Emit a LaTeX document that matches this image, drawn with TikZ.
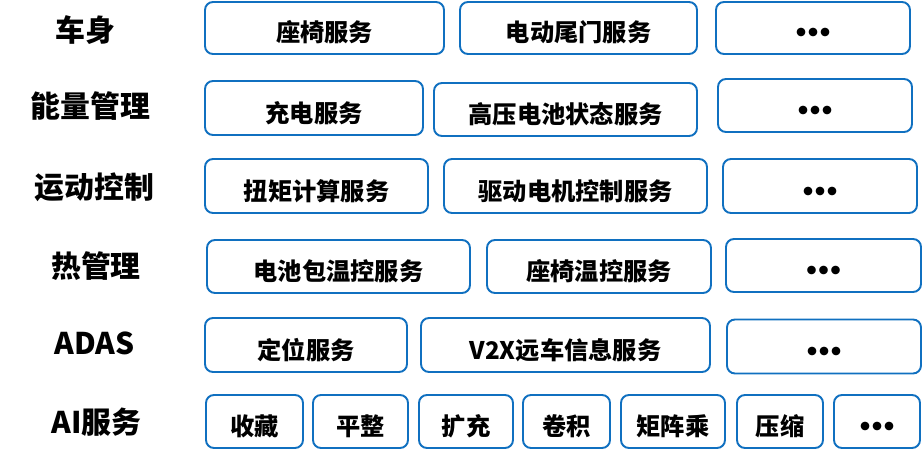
\documentclass[tikz,border=0pt]{standalone}
\usepackage{fontspec}
\setmainfont{Noto Sans CJK SC}
\newfontfamily\dotfont{DejaVu Sans}
\usepackage{tikz}

\definecolor{boxblue}{RGB}{16,112,192}
\newcommand{\moredots}{{\dotfont\bfseries •\kern-2pt•\kern-2pt•}}
\tikzset{
  svc/.style={draw=boxblue, line width=1.1pt, rounded corners=0.16cm, fill=white,
    inner sep=0pt, minimum height=1.06cm, text height=0.62cm, text depth=0.06cm,
    font=\fontsize{13.8}{15}\selectfont\bfseries},
  domtext/.style={inner sep=0pt, font=\fontsize{17}{19}\selectfont\bfseries}
}

\begin{document}
\begin{tikzpicture}
\useasboundingbox (0,0) rectangle (18.44,9.2);

\node (body) at (1.70, 8.60) [domtext] {车身};
\node (energy) at (1.81, 7.07) [domtext] {能量管理};
\node (motion) at (1.89, 5.46) [domtext] {运动控制};
\node (thermal) at (1.92, 3.88) [domtext] {热管理};
\node (adas) at (1.89, 2.33) [domtext] {ADAS};
\node (ai) at (1.93, 0.75) [domtext] {AI服务};

\node (seat) at (6.49, 8.64) [svc, minimum width=4.78cm, minimum height=1.04cm] {座椅服务};
\node (tailgate) at (11.57, 8.64) [svc, minimum width=4.74cm, minimum height=1.04cm] {电动尾门服务};
\node (bodymore) at (16.26, 8.64) [svc, minimum width=3.88cm, minimum height=1.04cm] {\moredots};

\node (charge) at (6.28, 7.04) [svc, minimum width=4.36cm, minimum height=1.08cm] {充电服务};
\node (battery) at (11.31, 7.01) [svc, minimum width=5.26cm] {高压电池状态服务};
\node (energymore) at (16.30, 7.09) [svc, minimum width=3.88cm] {\moredots};

\node (torque) at (6.33, 5.48) [svc, minimum width=4.46cm, minimum height=1.08cm] {扭矩计算服务};
\node (motor) at (11.51, 5.48) [svc, minimum width=5.26cm, minimum height=1.08cm] {驱动电机控制服务};
\node (motionmore) at (16.40, 5.48) [svc, minimum width=3.88cm, minimum height=1.08cm] {\moredots};

\node (pack) at (6.77, 3.87) [svc, minimum width=5.26cm] {电池包温控服务};
\node (seatheat) at (11.98, 3.87) [svc, minimum width=4.48cm] {座椅温控服务};
\node (thermalmore) at (16.47, 3.89) [svc, minimum width=3.90cm] {\moredots};

\node (locate) at (6.12, 2.30) [svc, minimum width=4.04cm, minimum height=1.08cm] {定位服务};
\node (v2x) at (11.31, 2.30) [svc, minimum width=5.78cm, minimum height=1.08cm] {V2X远车信息服务};
\node (adasmore) at (16.48, 2.27) [svc, minimum width=3.88cm, minimum height=1.08cm] {\moredots};

\node (collect) at (5.09, 0.77) [svc, minimum width=1.94cm] {收藏};
\node (flatten) at (7.21, 0.77) [svc, minimum width=1.90cm] {平整};
\node (expand) at (9.32, 0.77) [svc, minimum width=1.88cm] {扩充};
\node (conv) at (11.33, 0.77) [svc, minimum width=1.74cm] {卷积};
\node (matmul) at (13.46, 0.77) [svc, minimum width=2.08cm] {矩阵乘};
\node (compress) at (15.60, 0.77) [svc, minimum width=1.72cm] {压缩};
\node (aimore) at (17.54, 0.77) [svc, minimum width=1.72cm] {\moredots};
\end{tikzpicture}
\end{document}
